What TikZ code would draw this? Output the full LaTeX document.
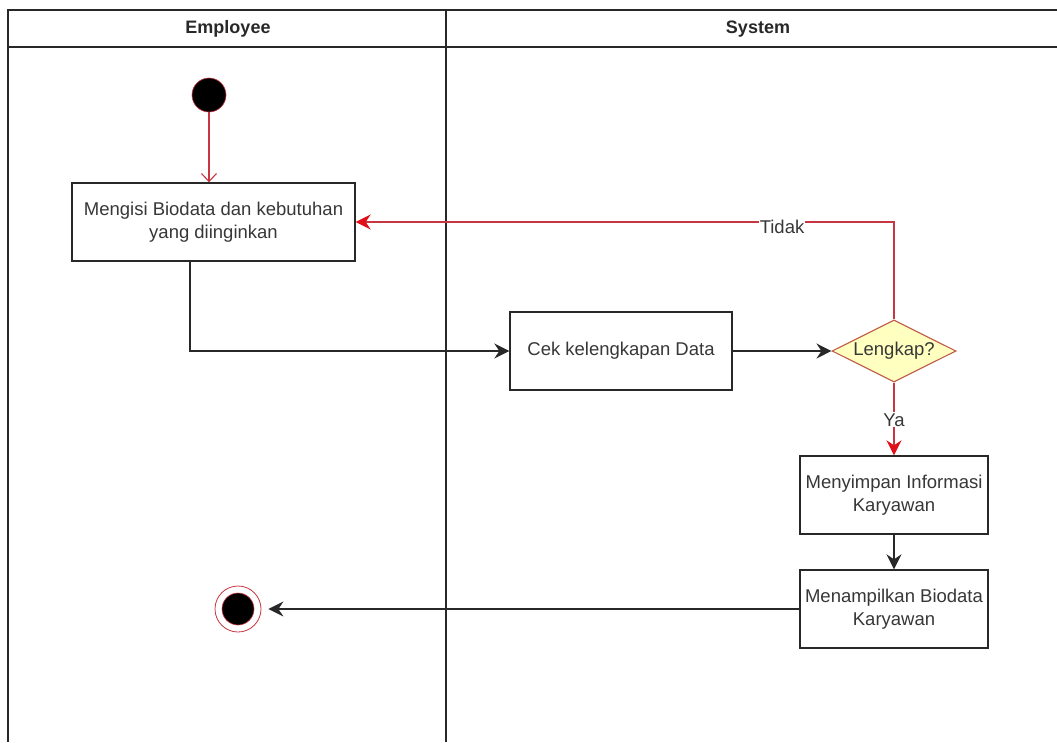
\documentclass[tikz,border=0pt]{standalone}
\usepackage{fontspec}
\setmainfont{Liberation Sans}
\usetikzlibrary{arrows.meta,shapes.geometric}

\definecolor{lanegray}{RGB}{40,40,40}
\definecolor{txtgray}{RGB}{55,55,55}
\definecolor{flowred}{RGB}{200,55,65}
\definecolor{tipred}{RGB}{225,15,25}
\definecolor{decfill}{RGB}{255,255,192}
\definecolor{decline}{RGB}{190,90,70}

\tikzset{
  lane/.style={draw=lanegray, line width=1.7pt},
  lanetitle/.style={font=\bfseries\fontsize{18}{22}\selectfont, text=lanegray},
  action/.style={draw=lanegray, line width=1.4pt, fill=white, rectangle,
    inner sep=2pt, align=center, text=txtgray,
    font=\fontsize{18.5}{23}\selectfont},
  decision/.style={draw=decline, line width=1.1pt, fill=decfill, diamond,
    aspect=2, inner sep=0pt, minimum width=124pt, minimum height=62pt,
    text=txtgray, font=\fontsize{18.5}{23}\selectfont},
  initial/.style={circle, fill=black, draw=flowred, line width=0.6pt,
    minimum size=34pt, inner sep=0pt},
  flow/.style={draw=lanegray, line width=1.4pt,
    -{Stealth[length=15pt, width=15pt, inset=5pt]}},
  redflow/.style={draw=flowred, line width=1.3pt,
    -{Stealth[length=15pt, width=15pt, inset=5pt, color=tipred]}},
  startflow/.style={draw=flowred, line width=1.1pt,
    -{Straight Barb[length=8pt, width=15pt]}},
  edgelabel/.style={fill=white, inner sep=1pt, text=txtgray,
    font=\fontsize{18.5}{22}\selectfont}
}

\begin{document}
\begin{tikzpicture}[x=1pt, y=-1pt]
\useasboundingbox[fill=white] (0,0) rectangle (1057,742);

% swimlanes
\draw[lane] (1057,10) -- (8,10) -- (8,742);
\draw[lane] (8,47) -- (1057,47);
\draw[lane] (446,10) -- (446,742);
\node[lanetitle] (hEmp) at (228,29) {Employee};
\node[lanetitle] (hSys) at (758,29) {System};

% activity nodes
\node[initial] (start) at (209,95) {};
\node[action, minimum width=283pt, minimum height=78pt] (isi) at (213.5,222)
  {Mengisi Biodata dan kebutuhan\\yang diinginkan};
\node[action, minimum width=222pt, minimum height=78pt] (cek) at (621,351)
  {Cek kelengkapan Data};
\node[decision] (dec) at (894,351) {Lengkap?};
\node[action, minimum width=188pt, minimum height=78pt] (simpan) at (894,495)
  {Menyimpan Informasi\\Karyawan};
\node[action, minimum width=188pt, minimum height=78pt] (tampil) at (894,609)
  {Menampilkan Biodata\\Karyawan};

% final node: ring with filled core
\node[circle, draw=flowred, line width=0.8pt, fill=white, minimum size=46pt,
  inner sep=0pt] (final) at (238,609) {};
\node[circle, fill=black, draw=flowred, line width=0.6pt, minimum size=32pt,
  inner sep=0pt] (finalcore) at (final.center) {};

% connectors
\draw[startflow] (start) -- (start |- isi.north);
\draw[flow] ([xshift=-23.5pt]isi.south) |- (cek.west);
\draw[flow] (cek.east) -- (dec.west);
\draw[redflow] (dec.north) |- (isi.east)
  node[edgelabel, pos=0.604, yshift=-5pt] (lTidak) {Tidak};
\draw[redflow] (dec.south) -- (simpan.north)
  node[edgelabel, midway, yshift=-1pt] (lYa) {Ya};
\draw[flow] (simpan.south) -- (tampil.north);
\draw[flow, shorten >=7pt] (tampil.west) -- (final.east);
\end{tikzpicture}
\end{document}
